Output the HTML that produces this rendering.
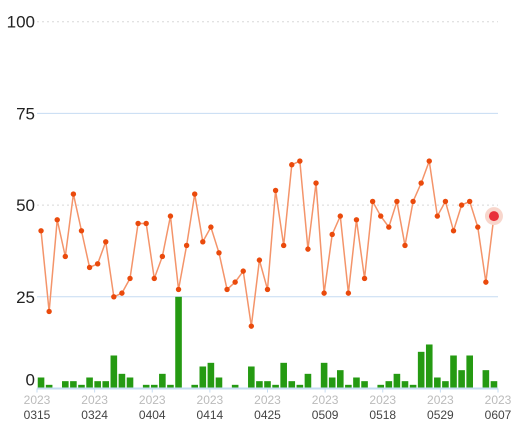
<!DOCTYPE html>
<html><head><meta charset="utf-8"><style>
body{margin:0;background:#fff;}
svg{display:block;font-family:"Liberation Sans",sans-serif;}
</style></head><body>
<svg id="chart" width="517" height="425"></svg>
<script>
const lineValues=[43,21,46,36,53,43,33,34,40,25,26,30,45,45,30,36,47,27,39,53,40,44,37,27,29,32,17,35,27,54,39,61,62,38,56,26,42,47,26,46,30,51,47,44,51,39,51,56,62,47,51,43,50,51,44,29,47];
const barValues=[3,1,0,2,2,1,3,2,2,9,4,3,0,1,1,4,1,25,0,1,6,7,3,0,1,0,6,2,2,1,7,2,1,4,0,7,3,5,1,3,2,0,1,2,4,2,1,10,12,3,2,9,5,9,0,5,2];
const yTicks=[0,25,50,75,100];
const xLabels=["0315","0324","0404","0414","0425","0509","0518","0529","0607"];
const x0=37,x1=498,yTop=21.7,yBot=388.5;
const n=lineValues.length, band=(x1-x0)/n;
const sx=i=>x0+band*(i+0.5);
const sy=v=>yBot-(v/100)*(yBot-yTop);
const svg=document.getElementById('chart');const NS='http://www.w3.org/2000/svg';
function mk(t,a){const e=document.createElementNS(NS,t);for(const k in a)e.setAttribute(k,a[k]);svg.appendChild(e);return e;}
yTicks.forEach(v=>{
  const y=sy(v);
  if(v>0){const g=mk('line',{x1:x0,x2:x1,y1:y,y2:y,stroke:(v%50===0)?'#d8d8d8':'#c6dcf2','stroke-width':1,'stroke-dasharray':(v%50===0)?'2,3':'none'});
  
  }
  const t=mk('text',{x:35,y:(v===0?y-3:y+6),'text-anchor':'end','font-size':17,fill:'#222'});t.textContent=v;
  
  
});
barValues.forEach((v,i)=>{if(v<=0)return;
  const r=mk('rect',{x:sx(i)-3.3,y:sy(v),width:6.6,height:yBot-sy(v),fill:'#259a12'});
  
  
});
const ax=mk('line',{x1:x0,x2:x1,y1:yBot,y2:yBot,stroke:'#c6dcf2','stroke-width':2});


xLabels.forEach((l,i)=>{
  const x=x0+(x1-x0)*i/(xLabels.length-1);
  const tk=mk('line',{x1:x,x2:x,y1:yBot,y2:yBot+4,stroke:'#c6dcf2','stroke-width':1});
  
  
  const a=mk('text',{x:x,y:404,'text-anchor':'middle','font-size':12,fill:'#bbb'});a.textContent='2023';
  
  
  const b=mk('text',{x:x,y:419,'text-anchor':'middle','font-size':12,fill:'#444'});b.textContent=l;
  
  
});
const pl=mk('polyline',{points:lineValues.map((v,i)=>sx(i)+','+sy(v)).join(' '),fill:'none',stroke:'#f4946a','stroke-width':1.5});


lineValues.forEach((v,i)=>{
  if(i===n-1){
    const h=mk('circle',{cx:sx(i),cy:sy(v),r:9,fill:'#f8d6cc'});
    
    
    const c=mk('circle',{cx:sx(i),cy:sy(v),r:5,fill:'#e8303a'});
    
    
  } else {
    const c=mk('circle',{cx:sx(i),cy:sy(v),r:2.7,fill:'#ea4a0c'});
    
    
  }
});
</script>
</body></html>
